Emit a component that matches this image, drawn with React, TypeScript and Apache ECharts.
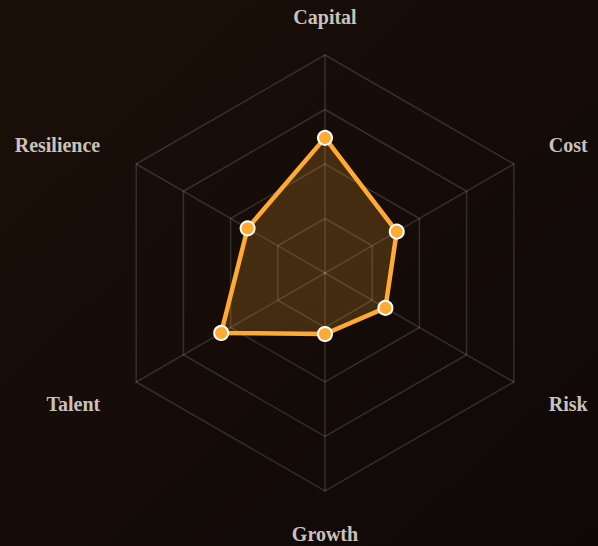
import React, { useEffect, useRef } from "react";
import * as echarts from "echarts";

// clockwise from top
const indicators = ["Capital", "Cost", "Risk", "Growth", "Talent", "Resilience"];
const maxValue = 100;
const values = [62, 38, 32, 28, 55, 41];

export default function App() {
  const ref = useRef<HTMLDivElement>(null);
  useEffect(() => {
    document.body.style.margin = "0";
    const chart = echarts.init(ref.current!, null, { renderer: "svg" });
    // ECharts radar runs counter-clockwise: reorder so the picture is clockwise
    const order = [0, 5, 4, 3, 2, 1];
    const base = {
      color: "#c9c2ba",
      fontFamily: "Liberation Serif, serif",
      fontWeight: "bold" as const,
      fontSize: 20,
    };
    const pads: Record<string, number[]> = {
      Capital: [0, 0, 0, 0],
      Cost: [0, 0, 8, 9],
      Risk: [14, 0, 0, 9],
      Growth: [3, 0, 0, 0],
      Talent: [14, 10, 0, 0],
      Resilience: [0, 10, 8, 0],
    };
    const rich: Record<string, any> = {};
    indicators.forEach((n) => {
      rich[n] = { ...base, padding: pads[n] };
    });
    rich.Capital.lineHeight = 16;
    chart.setOption({
      animation: false,
      backgroundColor: new echarts.graphic.LinearGradient(0, 0, 1, 1, [
        { offset: 0, color: "#1b1008" },
        { offset: 1, color: "#0f0808" },
      ]),
      radar: {
        center: [325, 273],
        radius: 218,
        startAngle: 90,
        splitNumber: 4,
        shape: "polygon",
        indicator: order.map((i) => ({ name: indicators[i], max: maxValue })),
        axisName: {
          ...base,
          formatter: (name: string) => `{${name}|${name}}`,
          rich,
        },
        nameGap: 30,
        splitLine: { lineStyle: { color: "rgba(255,255,255,0.14)", width: 1.5 } },
        axisLine: { lineStyle: { color: "rgba(255,255,255,0.14)", width: 1.5 } },
        splitArea: { show: false },
      },
      series: [
        {
          type: "radar",
          symbol: "circle",
          symbolSize: 14,
          data: [
            {
              value: order.map((i) => values[i]),
              lineStyle: { color: "#ffaa33", width: 4.5 },
              itemStyle: { color: "#ffaa33", borderColor: "#ffffff", borderWidth: 2 },
              areaStyle: { color: "rgba(255,170,51,0.29)" },
            },
          ],
        },
      ],
    });
    return () => chart.dispose();
  }, []);
  return <div ref={ref} style={{ width: 598, height: 546 }} />;
}
